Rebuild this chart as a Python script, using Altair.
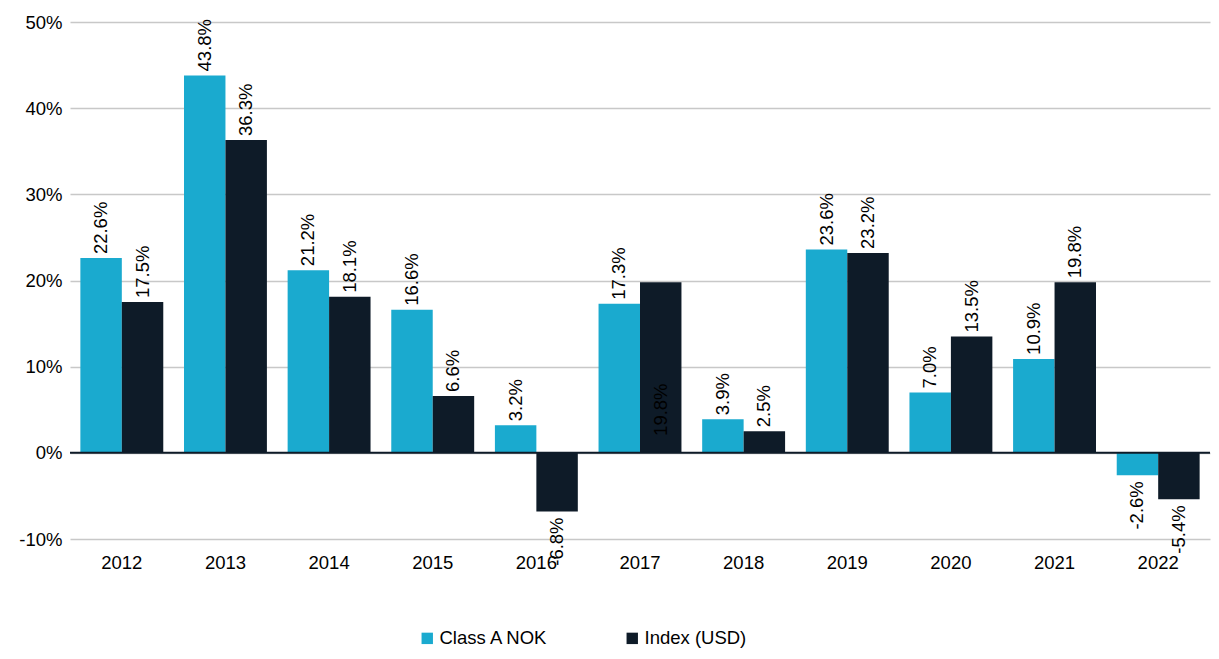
import altair as alt
import pandas as pd

years = ["2012", "2013", "2014", "2015", "2016", "2017", "2018", "2019", "2020", "2021", "2022"]
series_names = ["Class A NOK", "Index (USD)"]
class_a_nok = [22.6, 43.8, 21.2, 16.6, 3.2, 17.3, 3.9, 23.6, 7.0, 10.9, -2.6]
index_usd = [17.5, 36.3, 18.1, 6.6, -6.8, 19.8, 2.5, 23.2, 13.5, 19.8, -5.4]
colors = ["#1AAACF", "#0E1B28"]
y_ticks = [-10, 0, 10, 20, 30, 40, 50]

rows = []
for i, y in enumerate(years):
    rows.append({"year": y, "series": series_names[0], "value": class_a_nok[i]})
    rows.append({"year": y, "series": series_names[1], "value": index_usd[i]})
df = pd.DataFrame(rows)

FONT = "Liberation Sans"
FS = 18.5

x_enc = alt.X("year:N", sort=years,
              scale=alt.Scale(paddingInner=0.2, paddingOuter=0.1),
              axis=alt.Axis(title=None, labelAngle=0, ticks=False, domain=False,
                            labelPadding=14, labelFontSize=FS, labelColor="#000000",
                            labelFont=FONT))
xoff = alt.XOffset("series:N", sort=series_names)
y_scale = alt.Scale(domain=[-10, 50], nice=False)

base = alt.Chart(df)

bars = base.mark_bar().encode(
    x=x_enc,
    xOffset=xoff,
    y=alt.Y("value:Q", scale=y_scale,
            axis=alt.Axis(title=None, values=y_ticks, labelExpr="datum.value + '%'",
                          ticks=False, domain=False, grid=True, gridColor="#C8C8C8",
                          gridWidth=1.5, labelPadding=8, labelFontSize=FS,
                          labelColor="#000000", labelFont=FONT)),
    color=alt.Color("series:N", sort=series_names,
                    scale=alt.Scale(domain=series_names, range=colors),
                    legend=alt.Legend(title=None, orient="none", direction="horizontal",
                                      legendX=348, legendY=607, symbolType="square",
                                      symbolSize=130, symbolStrokeWidth=0,
                                      labelFontSize=FS, labelFont=FONT, labelColor="#000000",
                                      columnPadding=74, labelOffset=3, labelLimit=300)),
)

zero = alt.Chart(pd.DataFrame({"z": [0]})).mark_rule(color="#0E1B28", strokeWidth=2).encode(
    y=alt.Y("z:Q", scale=y_scale)
)

lab = base.transform_calculate(
    label="replace(format(datum.value, '.1f'), '\u2212', '-') + '%'",
    ly="datum.year == '2017' && datum.series == 'Index (USD)' ? 1.5 : datum.value",
)

pos_text = lab.transform_filter("datum.value >= 0").mark_text(
    angle=270, align="left", baseline="middle", dx=4, fontSize=FS, font=FONT, color="#000000"
).encode(x=alt.X("year:N", sort=years), xOffset=xoff, y=alt.Y("ly:Q", scale=y_scale),
         text="label:N")

neg_text = lab.transform_filter("datum.value < 0").mark_text(
    angle=270, align="right", baseline="middle", dx=-6, fontSize=FS, font=FONT, color="#000000"
).encode(x=alt.X("year:N", sort=years), xOffset=xoff, y=alt.Y("ly:Q", scale=y_scale),
         text="label:N")

chart = alt.layer(bars, zero, pos_text, neg_text).properties(
    width=1140, height=517,
    autosize=alt.AutoSizeParams(type="none"),
    padding={"left": 62, "top": 14, "right": 1, "bottom": 112},
).configure_view(stroke=None)

chart.save("out.html", embed_options={"renderer": "svg", "actions": False})
